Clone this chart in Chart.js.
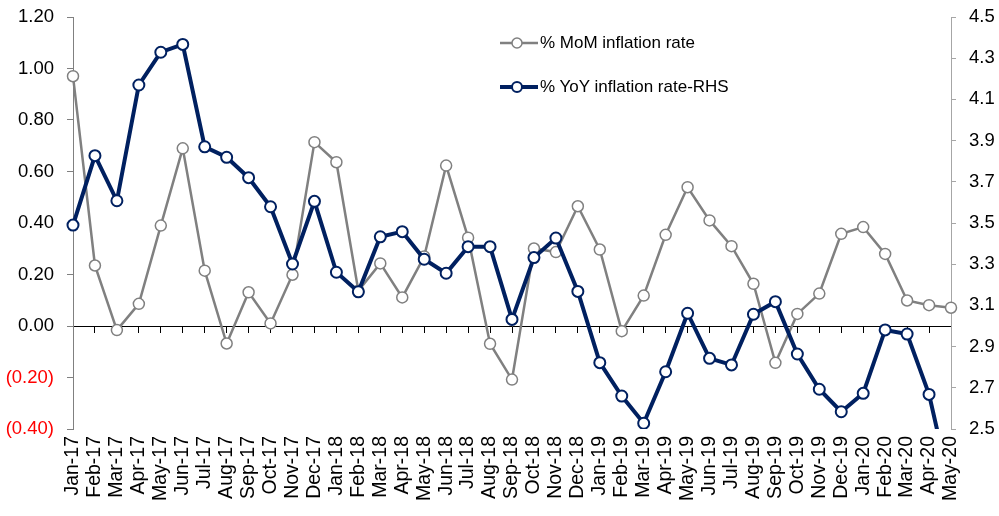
<!DOCTYPE html>
<html>
<head>
<meta charset="utf-8">
<script src="https://cdn.jsdelivr.net/npm/chart.js@4"></script>
<style>
    body { margin: 0; background: #fff; }
    #wrap { position: relative; width: 999px; height: 516px; }
    .leg { position: absolute; left: 500px; height: 20px; display: flex; align-items: center;
        font: 17px "Liberation Sans", Arial, sans-serif; color: #000; white-space: nowrap; }
    .leg svg { margin-right: 2px; }
</style>
</head>
<body>
<div id="wrap">
    <canvas id="lineChart" width="999" height="516"></canvas>
    <div class="leg" style="top: 33px;">
        <svg width="38" height="20"><line x1="0" y1="10" x2="38" y2="10" stroke="#808080" stroke-width="2.5"/><circle cx="17" cy="10" r="5" fill="#fff" stroke="#808080" stroke-width="1.5"/></svg>
        <span>% MoM inflation rate</span>
    </div>
    <div class="leg" style="top: 77px;">
        <svg width="38" height="20"><line x1="0" y1="10" x2="38" y2="10" stroke="#002060" stroke-width="4"/><circle cx="17" cy="10" r="5" fill="#fff" stroke="#002060" stroke-width="2"/></svg>
        <span>% YoY inflation rate-RHS</span>
    </div>
</div>
<script>
const months = ['Jan-17', 'Feb-17', 'Mar-17', 'Apr-17', 'May-17', 'Jun-17', 'Jul-17', 'Aug-17', 'Sep-17', 'Oct-17', 'Nov-17', 'Dec-17',
    'Jan-18', 'Feb-18', 'Mar-18', 'Apr-18', 'May-18', 'Jun-18', 'Jul-18', 'Aug-18', 'Sep-18', 'Oct-18', 'Nov-18', 'Dec-18',
    'Jan-19', 'Feb-19', 'Mar-19', 'Apr-19', 'May-19', 'Jun-19', 'Jul-19', 'Aug-19', 'Sep-19', 'Oct-19', 'Nov-19', 'Dec-19',
    'Jan-20', 'Feb-20', 'Mar-20', 'Apr-20', 'May-20'];

// % MoM, left axis
const momRate = [0.97, 0.235, -0.016, 0.086, 0.39, 0.69, 0.215, -0.068, 0.131, 0.01, 0.199, 0.714,
    0.636, 0.137, 0.243, 0.111, 0.27, 0.623, 0.343, -0.069, -0.208, 0.301, 0.287, 0.465,
    0.297, -0.02, 0.118, 0.354, 0.539, 0.41, 0.31, 0.164, -0.143, 0.047, 0.126, 0.358,
    0.384, 0.28, 0.099, 0.081, 0.071];

// % YoY, right axis
const yoyRate = [3.49, 3.827, 3.608, 4.17, 4.329, 4.367, 3.87, 3.819, 3.72, 3.579, 3.301, 3.605,
    3.261, 3.166, 3.433, 3.458, 3.324, 3.256, 3.385, 3.385, 3.032, 3.332, 3.427, 3.168,
    2.822, 2.66, 2.528, 2.778, 3.062, 2.843, 2.811, 3.057, 3.118, 2.864, 2.693, 2.584,
    2.673, 2.981, 2.961, 2.668, 2.2];

const leftTicks = {min: -0.4, max: 1.2, step: 0.2};
const rightTicks = {min: 2.5, max: 4.5, step: 0.2};

const fontFamily = '"Liberation Sans", Arial, sans-serif';

document.addEventListener('DOMContentLoaded', function () {
    let ctx = document.getElementById('lineChart').getContext('2d');

    // keep axis boxes at fixed sizes so the plot area lines up with the picture
    function fixWidth(w) {
        return function (scale) {
            scale.width = w;
            scale.paddingTop = 8;
            scale.paddingBottom = 8;
        };
    }

    let lineChart = new Chart(ctx, {
        type: 'line', data: {
            labels: months, datasets: [{
                label: '% MoM inflation rate',
                data: momRate,
                yAxisID: 'y',
                order: 2,
                borderColor: '#808080',
                borderWidth: 2.5,
                pointRadius: 5.5,
                pointBorderWidth: 1.5,
                pointBackgroundColor: '#fff',
                pointBorderColor: '#808080',
                tension: 0,
                clip: {left: 10, right: 10, top: 10, bottom: 0}
            }, {
                label: '% YoY inflation rate-RHS',
                data: yoyRate,
                yAxisID: 'y1',
                order: 1,
                borderColor: '#002060',
                borderWidth: 4,
                pointRadius: 5.5,
                pointBorderWidth: 2,
                pointBackgroundColor: '#fff',
                pointBorderColor: '#002060',
                tension: 0,
                clip: {left: 10, right: 10, top: 10, bottom: 0}
            }]
        }, options: {
            responsive: false, animation: false,
            layout: {padding: {left: 0, right: 0, top: 17, bottom: 0}},
            plugins: {legend: {display: false}, tooltip: {enabled: false}},
            scales: {
                x: {
                    grid: {display: false, drawTicks: false},
                    border: {display: false},
                    ticks: {
                        autoSkip: false, maxRotation: 90, minRotation: 90, padding: 7,
                        color: '#000', font: {family: fontFamily, size: 19.5}
                    },
                    afterFit: (scale) => { scale.height = 87; }
                },
                // zero line with tick marks, pinned at 0 of the left axis
                x2: {
                    type: 'category', labels: months, position: {y: 0},
                    grid: {display: true, drawOnChartArea: false, drawTicks: true, tickLength: 6, color: '#000'},
                    border: {display: true, color: '#000', width: 1},
                    ticks: {display: false, autoSkip: false}
                },
                y: {
                    position: 'left', min: leftTicks.min, max: leftTicks.max,
                    grid: {display: true, drawOnChartArea: false, tickLength: 6, color: '#808080'},
                    border: {color: '#808080'},
                    ticks: {
                        stepSize: leftTicks.step, padding: 13,
                        font: {family: fontFamily, size: 18.5},
                        color: (c) => c.tick && c.tick.value < -1e-9 ? '#ff0000' : '#000',
                        callback: (v) => v < -1e-9 ? '(' + Math.abs(v).toFixed(2) + ')' : Math.abs(v).toFixed(2)
                    },
                    afterFit: fixWidth(73)
                },
                y1: {
                    position: 'right', min: rightTicks.min, max: rightTicks.max,
                    grid: {display: true, drawOnChartArea: false, tickLength: 5, color: '#a6a6a6'},
                    border: {color: '#a6a6a6'},
                    ticks: {
                        stepSize: rightTicks.step, padding: 13, color: '#000',
                        font: {family: fontFamily, size: 18.5},
                        callback: (v) => v.toFixed(1)
                    },
                    afterFit: fixWidth(48)
                }
            }
        }
    });
});
</script>
</body>
</html>
